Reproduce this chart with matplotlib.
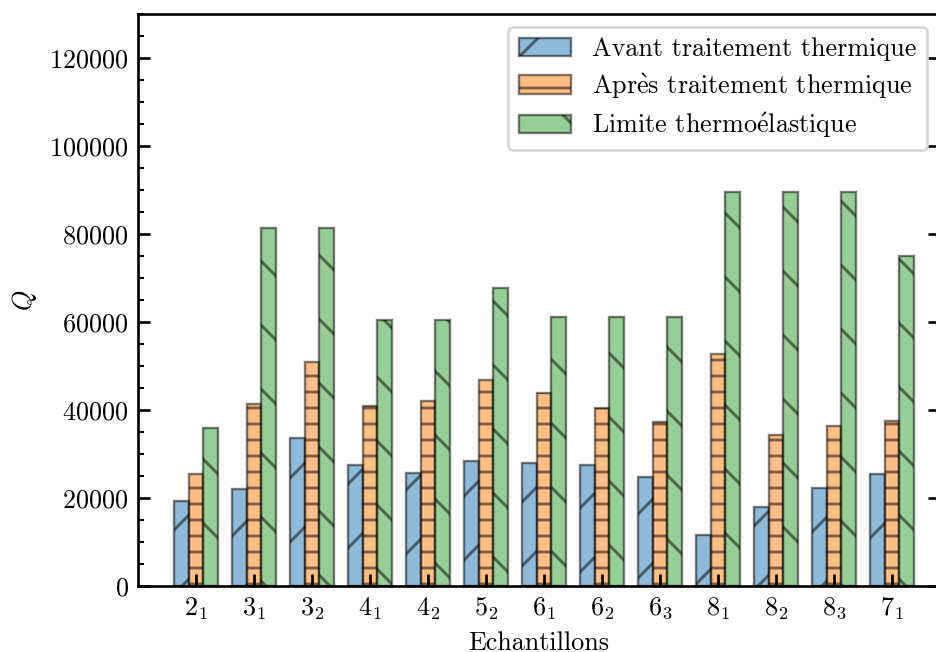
import matplotlib
matplotlib.use("Agg")
import matplotlib.pyplot as plt
import numpy as np
from matplotlib.ticker import MultipleLocator

plt.rcParams['font.family'] = ['cmr10', 'DejaVu Serif']
plt.rcParams['mathtext.fontset'] = 'cm'
plt.rcParams['axes.formatter.use_mathtext'] = True
plt.rcParams['axes.unicode_minus'] = False
plt.rcParams['font.size'] = 9.8
plt.rcParams['hatch.linewidth'] = 1.1

categories = [r'$2_1$', r'$3_1$', r'$3_2$', r'$4_1$', r'$4_2$', r'$5_2$', r'$6_1$',
              r'$6_2$', r'$6_3$', r'$8_1$', r'$8_2$', r'$8_3$', r'$7_1$']
avant = [19300, 22000, 33700, 27500, 25600, 28500, 27900, 27400, 24700, 11700, 18000, 22300, 25400]
apres = [25500, 41400, 50900, 40900, 42100, 46800, 43900, 40400, 37300, 52800, 34300, 36300, 37600]
limite = [35800, 81400, 81400, 60400, 60400, 67650, 61100, 61100, 61100, 89600, 89600, 89600, 75000]
labels = ['Avant traitement thermique',
          r'Apr$\grave{\mathrm{e}}$s traitement thermique',
          r'Limite thermo$\acute{\mathrm{e}}$lastique']

dpi = 192
fig = plt.figure(figsize=(936 / dpi, 652 / dpi), dpi=dpi)
ax = fig.add_axes([138 / 936, 1 - 586 / 652, (940 - 138) / 936, (586 - 14) / 652])

x = np.arange(len(categories))
w = 0.25
ax.bar(x - w, avant, w, color='tab:blue', alpha=0.5, edgecolor='black', linewidth=0.9, hatch='/', label=labels[0])
ax.bar(x, apres, w, color='tab:orange', alpha=0.5, edgecolor='black', linewidth=0.9, hatch='--', label=labels[1])
ax.bar(x + w, limite, w, color='tab:green', alpha=0.5, edgecolor='black', linewidth=0.9, hatch='\\', label=labels[2])

ax.set_xticks(x)
ax.set_xticklabels(categories)
ax.set_xlim(-1.0, 12.83)
ax.set_ylim(0, 130000)
ax.yaxis.set_major_locator(MultipleLocator(20000))
ax.yaxis.set_minor_locator(MultipleLocator(5000))
ax.tick_params(axis='y', which='major', direction='in', left=True, right=True)
ax.tick_params(axis='y', which='minor', direction='in', left=True, right=False)
ax.tick_params(axis='x', which='both', direction='in', top=False, bottom=True)
ax.tick_params(which='major', length=4.5, width=1.0)
ax.tick_params(which='minor', length=2.2, width=0.8)
for s in ax.spines.values():
    s.set_linewidth(1.0)

ax.set_xlabel('Echantillons', labelpad=3.5)
ax.set_ylabel(r'$Q$')
ax.legend(loc='upper right', labelspacing=0.38)

fig.savefig('out.png', dpi=dpi)
